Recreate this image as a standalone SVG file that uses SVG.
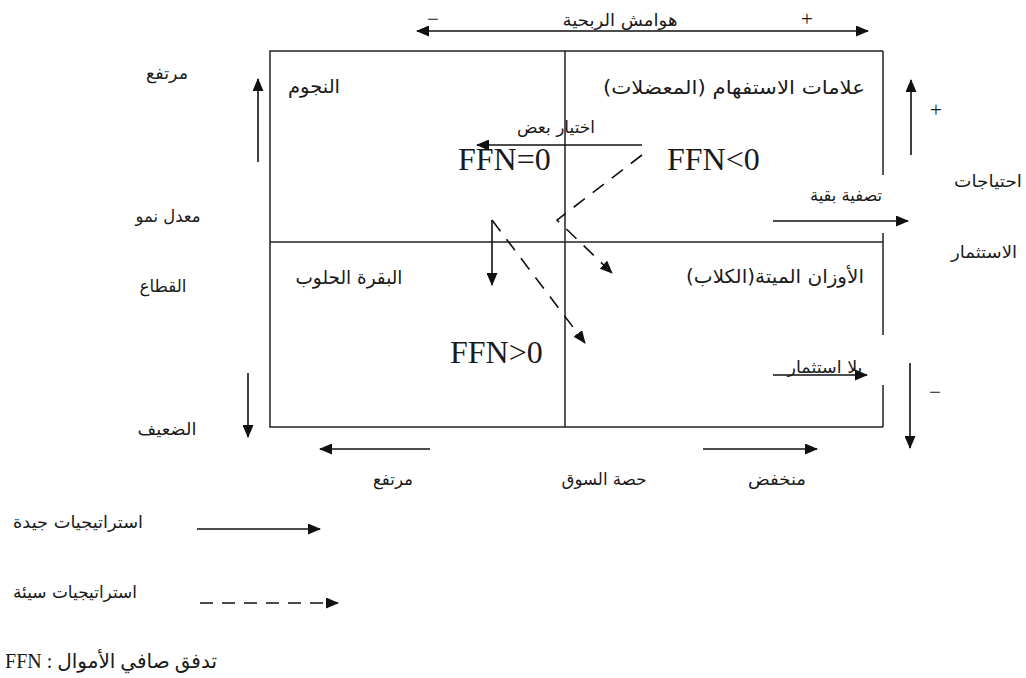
<svg xmlns="http://www.w3.org/2000/svg" width="1026" height="678" viewBox="0 0 1026 678">
<style>
.ln{stroke:#222;stroke-width:1.5;fill:none}
.ar{stroke:#111;stroke-width:1.6;fill:none;marker-end:url(#ah)}
.da{stroke:#111;stroke-width:1.6;fill:none;stroke-dasharray:14 10;marker-end:url(#ah)}
.t{font-family:"DejaVu Sans","Noto Sans",sans-serif;font-size:17px;fill:#1a1a1a;text-anchor:middle;dominant-baseline:central}
.q{font-size:19px}
.f{font-family:"Liberation Serif","Times New Roman",serif;font-size:32px;fill:#1a1a1a}
.s{font-family:"Liberation Serif","Times New Roman",serif;font-size:21px;fill:#1a1a1a;text-anchor:middle;dominant-baseline:central}
</style>
<defs>
<marker id="ah" markerUnits="userSpaceOnUse" markerWidth="13" markerHeight="11" refX="12" refY="5.5" orient="auto-start-reverse" viewBox="0 0 13 11">
<path d="M0,0 L13,5.5 L0,11 z" fill="#111"/>
</marker>
</defs>

<g id="matrix">
<polyline class="ln" points="883,51 270,51 270,427 883,427"/>
<line class="ln" x1="883" y1="51" x2="883" y2="175"/>
<line class="ln" x1="883" y1="233" x2="883" y2="335"/>
<line class="ln" x1="883" y1="385" x2="883" y2="427"/>
<line class="ln" x1="565" y1="51" x2="565" y2="427"/>
<line class="ln" x1="270" y1="242" x2="883" y2="242"/>
</g>

<g id="stars"><text class="t q" x="314" y="86" textLength="52" lengthAdjust="spacingAndGlyphs">النجوم</text>
<text class="f" x="458" y="170">FFN=0</text></g>
<g id="question-marks"><text class="t q" x="734" y="87" textLength="262" lengthAdjust="spacingAndGlyphs">علامات الاستفهام (المعضلات)</text>
<text class="f" x="667" y="170">FFN&lt;0</text></g>
<g id="cash-cows"><text class="t q" x="349" y="277" textLength="107" lengthAdjust="spacingAndGlyphs">البقرة الحلوب</text>
<text class="f" x="450" y="363">FFN&gt;0</text></g>
<g id="dogs"><text class="t q" x="775" y="276" textLength="178" lengthAdjust="spacingAndGlyphs">الأوزان الميتة(الكلاب)</text></g>

<g id="axes">
<line class="ar" x1="417" y1="31" x2="868" y2="31" style="marker-start:url(#ah)"/>
<text class="t" x="620" y="20" textLength="115" lengthAdjust="spacingAndGlyphs">هوامش الربحية</text>
<text class="s" x="433" y="19">−</text>
<text class="s" x="807" y="19">+</text>
<line class="ar" x1="258" y1="162" x2="258" y2="79"/>
<line class="ar" x1="248" y1="373" x2="248" y2="437"/>
<text class="t" x="167" y="73" textLength="42" lengthAdjust="spacingAndGlyphs">مرتفع</text>
<text class="t" x="168" y="216" textLength="65" lengthAdjust="spacingAndGlyphs">معدل نمو</text>
<text class="t" x="163" y="286" textLength="47" lengthAdjust="spacingAndGlyphs">القطاع</text>
<text class="t" x="167" y="429" textLength="59" lengthAdjust="spacingAndGlyphs">الضعيف</text>
<line class="ar" x1="911" y1="155" x2="911" y2="80"/>
<line class="ar" x1="910" y1="363" x2="910" y2="448"/>
<text class="s" x="936" y="110">+</text>
<text class="s" x="935" y="392">−</text>
<text class="t" x="988" y="181" textLength="68" lengthAdjust="spacingAndGlyphs">احتياجات</text>
<text class="t" x="984" y="252" textLength="66" lengthAdjust="spacingAndGlyphs">الاستثمار</text>
<line class="ar" x1="430" y1="449" x2="320" y2="449"/>
<line class="ar" x1="703" y1="449" x2="817" y2="449"/>
<text class="t" x="393" y="479" textLength="40" lengthAdjust="spacingAndGlyphs">مرتفع</text>
<text class="t" x="604" y="479" textLength="85" lengthAdjust="spacingAndGlyphs">حصة السوق</text>
<text class="t" x="777" y="479" textLength="58" lengthAdjust="spacingAndGlyphs">منخفض</text>
</g>

<g id="connectors">
<line class="ar" x1="642" y1="145" x2="477" y2="145"/>
<text class="t" x="556" y="127" textLength="78" lengthAdjust="spacingAndGlyphs">اختيار بعض</text>
<path class="da" d="M642,155 L557,220 L612,273"/>
<line class="ar" x1="492" y1="220" x2="492" y2="285"/>
<line class="da" x1="492" y1="220" x2="585" y2="343"/>
<line class="ar" x1="773" y1="221" x2="908" y2="221"/>
<text class="t" x="846" y="195" textLength="72" lengthAdjust="spacingAndGlyphs">تصفية بقية</text>
<line class="ar" x1="773" y1="375" x2="867" y2="375"/>
<text class="t" x="825" y="367" textLength="75" lengthAdjust="spacingAndGlyphs">بلا استثمار</text>
</g>

<g id="legend">
<text class="t" x="78" y="522" textLength="130" lengthAdjust="spacingAndGlyphs">استراتيجيات جيدة</text>
<line class="ar" x1="197" y1="529" x2="320" y2="529"/>
<text class="t" x="75" y="592" textLength="124" lengthAdjust="spacingAndGlyphs">استراتيجيات سيئة</text>
<line class="ar" x1="200" y1="603" x2="338" y2="603" style="stroke-dasharray:13 9"/>
<text class="t" x="111" y="661" direction="rtl" style="font-family:'Liberation Serif','DejaVu Sans',serif;font-size:20px">تدفق صافي الأموال : FFN</text>
</g>
</svg>
